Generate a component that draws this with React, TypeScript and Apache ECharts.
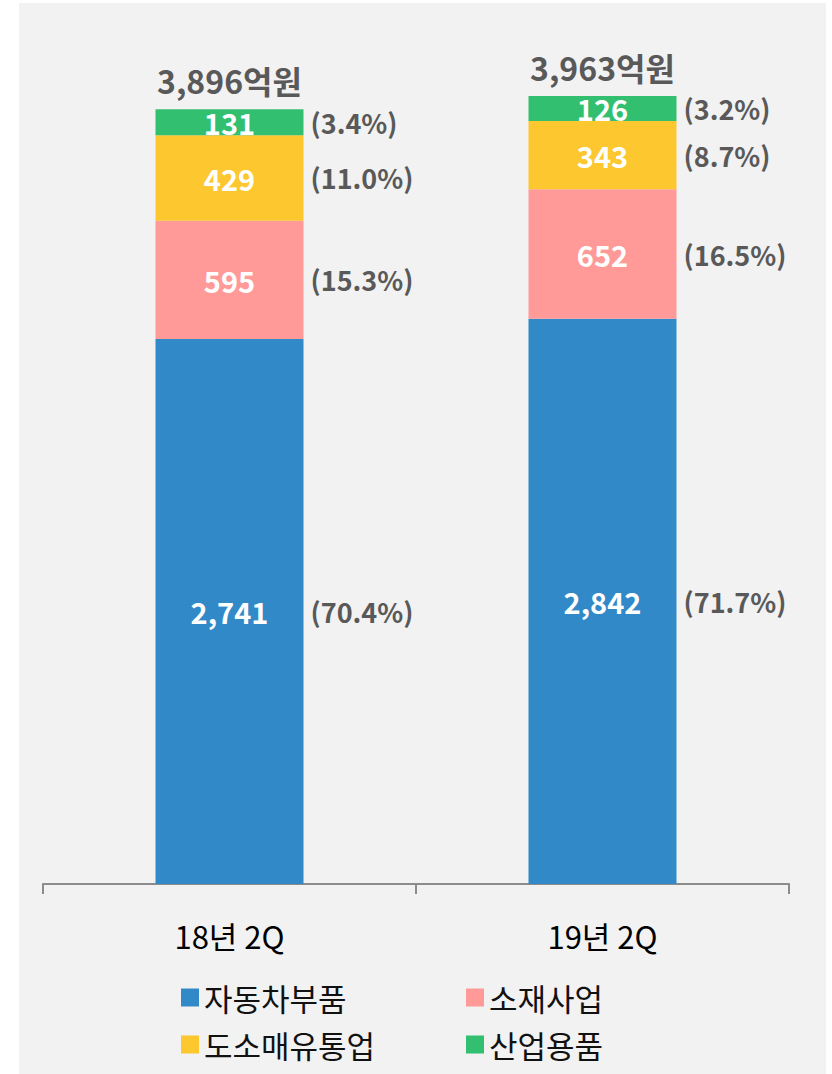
import React, { useEffect, useRef } from "react";
import * as echarts from "echarts";

const categories = ["18년 2Q", "19년 2Q"];
const seriesNames = ["자동차부품", "소재사업", "도소매유통업", "산업용품"];
const autoParts = [2741, 2842];
const materials = [595, 652];
const retail = [429, 343];
const industrial = [131, 126];
const totals = ["3,896억원", "3,963억원"];
const pctAuto = ["(70.4%)", "(71.7%)"];
const pctMaterials = ["(15.3%)", "(16.5%)"];
const pctRetail = ["(11.0%)", "(8.7%)"];
const pctIndustrial = ["(3.4%)", "(3.2%)"];

const colors = ["#3289c8", "#ff9a99", "#fdc72f", "#32bf70"];
const FONT = "'Noto Sans CJK KR', 'Noto Sans', sans-serif";

export default function App() {
  const ref = useRef<HTMLDivElement>(null);
  useEffect(() => {
    if (!ref.current) return;
    const chart = echarts.init(ref.current, null, { renderer: "svg" });
    const values = [autoParts, materials, retail, industrial];
    const pcts = [pctAuto, pctMaterials, pctRetail, pctIndustrial];
    const barWidth = 148;

    const mainSeries: any[] = values.map((v, i) => ({
      name: seriesNames[i],
      type: "bar",
      stack: "a",
      xAxisIndex: 0,
      barWidth,
      data: v,
      itemStyle: { color: colors[i] },
      label: {
        show: true,
        position: "inside",
        color: "#ffffff",
        fontSize: 29,
        fontWeight: "bold",
        fontFamily: FONT,
        lineHeight: 26,
        formatter: (p: any) => p.value.toLocaleString("en-US"),
      },
    }));

    const totalSeries = {
      name: "total",
      type: "bar",
      stack: "a",
      xAxisIndex: 0,
      barWidth,
      data: [0, 0],
      itemStyle: { color: "transparent" },
      label: {
        show: true,
        position: "top",
        distance: 13,
        color: "#595959",
        fontSize: 32,
        fontWeight: "bold",
        fontFamily: FONT,
        formatter: (p: any) => totals[p.dataIndex],
      },
    };

    const pctSeries: any[] = values.map((v, i) => ({
      name: "pct" + i,
      type: "bar",
      stack: "b",
      xAxisIndex: 1,
      barWidth,
      data: v,
      itemStyle: { color: "transparent" },
      label: {
        show: true,
        position: "right",
        distance: 7,
        color: "#595959",
        fontSize: 27,
        fontWeight: "bold",
        fontFamily: FONT,
        formatter: (p: any) => pcts[i][p.dataIndex],
      },
    }));

    const legendPos = [
      { left: 176, top: 977 },
      { left: 461, top: 977 },
      { left: 176, top: 1024 },
      { left: 461, top: 1024 },
    ];

    chart.setOption({
      animation: false,
      graphic: [
        {
          type: "rect",
          z: -10,
          shape: { x: 19, y: 3, width: 807, height: 1071 },
          style: { fill: "#f2f2f2" },
          silent: true,
        },
      ],
      grid: { left: 43, right: 43, top: 88.6, bottom: 190, containLabel: false },
      legend: seriesNames.map((name, idx) => ({
        data: [name],
        left: legendPos[idx].left,
        top: legendPos[idx].top,
        itemWidth: 18,
        itemHeight: 18,
        icon: "rect",
        selectedMode: false,
        textStyle: { fontSize: 31, color: "#111111", fontFamily: FONT },
      })),
      xAxis: [
        {
          type: "category",
          data: categories,
          axisLine: { lineStyle: { color: "#8c8c8c", width: 2 } },
          axisTick: { show: true, length: 10, lineStyle: { color: "#8c8c8c", width: 2 } },
          axisLabel: { color: "#000000", fontSize: 31, fontFamily: FONT, margin: 36 },
        },
        {
          type: "category",
          data: categories,
          show: false,
        },
      ],
      yAxis: { type: "value", min: 0, max: 4000, show: false, splitLine: { show: false } },
      series: [...mainSeries, totalSeries, ...pctSeries],
    });
    return () => chart.dispose();
  }, []);
  return (
    <div
      ref={ref}
      style={{ position: "absolute", left: 0, top: 0, width: 832, height: 1074, background: "#ffffff" }}
    />
  );
}
